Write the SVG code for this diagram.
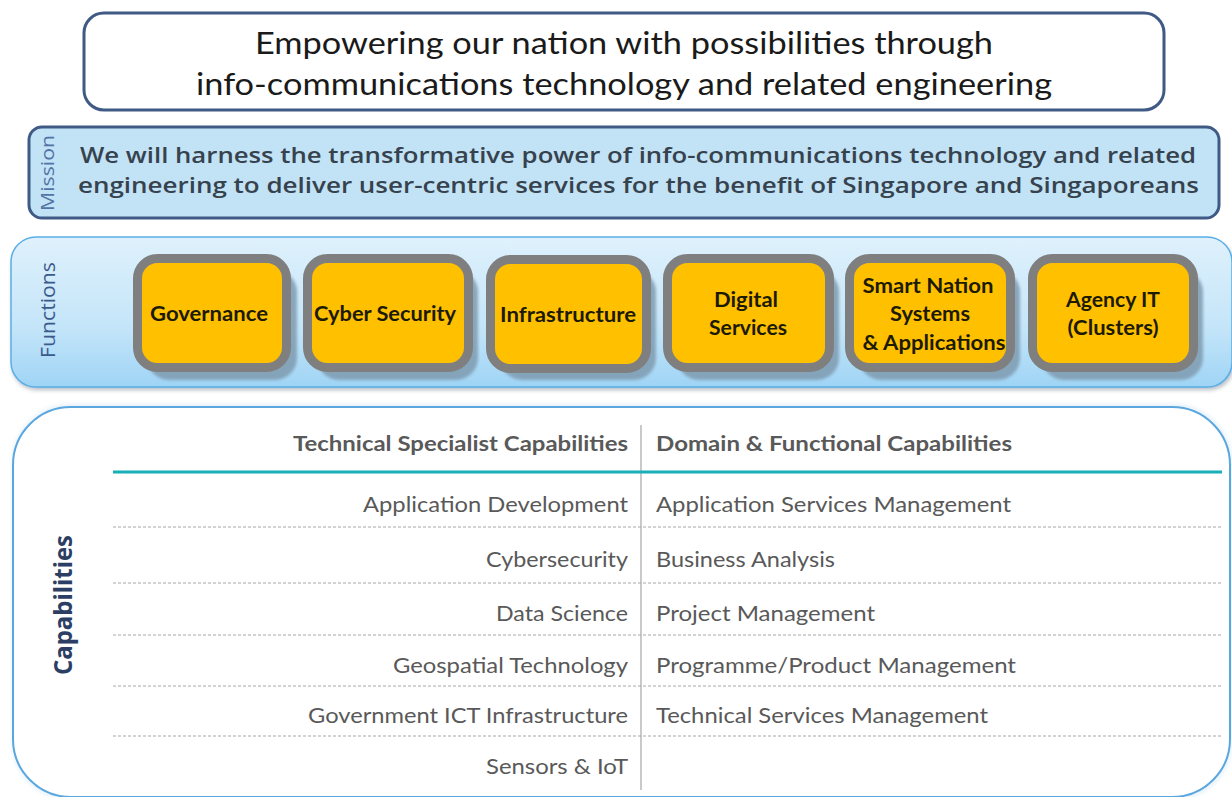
<svg xmlns="http://www.w3.org/2000/svg" width="1232" height="797" viewBox="0 0 1232 797">
<defs>
<linearGradient id="funcGrad" x1="0" y1="0" x2="0" y2="1">
<stop offset="0" stop-color="#dff1fc"/>
<stop offset="0.6" stop-color="#c4e5f9"/>
<stop offset="1" stop-color="#9fd4f5"/>
</linearGradient>
<filter id="blur2" x="-10%" y="-10%" width="120%" height="130%"><feGaussianBlur stdDeviation="1.5"/></filter>
<filter id="panelShadow" x="-5%" y="-10%" width="110%" height="130%"><feGaussianBlur stdDeviation="2"/></filter>
</defs>
<style>
.cal{font-family:Lato,"Open Sans","Liberation Sans",sans-serif}
.geo{font-family:"Open Sans","DejaVu Sans",sans-serif}
.title{font-size:31px;fill:#1a1a1a}
.mission{font-size:22px;font-weight:600;fill:#36424e}
.fbox{fill:#ffc000;stroke:#7f7f7f;stroke-width:9}
.fshadow{fill:#7f9bb0;opacity:0.85}
.ftext{font-size:20px;font-weight:700;fill:#1c1a00;text-anchor:middle}
.th{font-size:21px;font-weight:700;fill:#595959}
.td{font-size:22px;fill:#595959}
.r{text-anchor:end}
.dot{stroke:#a6a6a6;stroke-width:1;stroke-dasharray:3 2}
</style>
<rect width="1232" height="797" fill="#ffffff"/>

<g id="vision">
<rect x="84" y="13" width="1080" height="97" rx="20" fill="#ffffff" stroke="#3f5a85" stroke-width="3"/>
<text class="cal title" x="624" y="54" text-anchor="middle" textLength="738" lengthAdjust="spacingAndGlyphs">Empowering our nation with possibilities through</text>
<text class="cal title" x="624" y="95" text-anchor="middle" textLength="856" lengthAdjust="spacingAndGlyphs">info-communications technology and related engineering</text>
</g>

<g id="mission">
<rect x="29" y="127" width="1190" height="91" rx="13" fill="#c2e2f5" stroke="#3f5a85" stroke-width="3"/>
<text class="geo" x="0" y="0" transform="translate(54,173) rotate(-90)" text-anchor="middle" font-size="18" fill="#5173a6" textLength="76" lengthAdjust="spacingAndGlyphs">Mission</text>
<text class="geo mission" x="80" y="163" textLength="1116" lengthAdjust="spacingAndGlyphs">We will harness the transformative power of info-communications technology and related</text>
<text class="geo mission" x="78" y="193" textLength="1121" lengthAdjust="spacingAndGlyphs">engineering to deliver user-centric services for the benefit of Singapore and Singaporeans</text>
</g>

<g id="functions">
<rect x="12" y="240" width="1222" height="150" rx="25" fill="#6b7c8c" opacity="0.5" filter="url(#panelShadow)"/>
<rect x="11" y="237" width="1221" height="150" rx="25" fill="url(#funcGrad)" stroke="#5aaee6" stroke-width="1.5"/>
<text class="geo" x="0" y="0" transform="translate(55,310) rotate(-90)" text-anchor="middle" font-size="20" fill="#3a5a8c" textLength="96" lengthAdjust="spacingAndGlyphs">Functions</text>
</g>

<g id="fn-governance">
<rect class="fshadow" x="147" y="270" width="150" height="110" rx="22" filter="url(#blur2)"/>
<rect class="fbox" x="137.5" y="258.5" width="149" height="109" rx="20"/>
<text class="cal ftext" x="209" y="321" textLength="118" lengthAdjust="spacingAndGlyphs">Governance</text>
</g>
<g id="fn-cyber">
<rect class="fshadow" x="317" y="270" width="161" height="110" rx="22" filter="url(#blur2)"/>
<rect class="fbox" x="307.5" y="258.5" width="161" height="109" rx="20"/>
<text class="cal ftext" x="385" y="321" textLength="142" lengthAdjust="spacingAndGlyphs">Cyber Security</text>
</g>
<g id="fn-infra">
<rect class="fshadow" x="500" y="270" width="156" height="110" rx="22" filter="url(#blur2)"/>
<rect class="fbox" x="490.5" y="259.5" width="156" height="109" rx="20"/>
<text class="cal ftext" x="568" y="322" textLength="136" lengthAdjust="spacingAndGlyphs">Infrastructure</text>
</g>
<g id="fn-digital">
<rect class="fshadow" x="677" y="270" width="162" height="110" rx="22" filter="url(#blur2)"/>
<rect class="fbox" x="667.5" y="258.5" width="162" height="109" rx="20"/>
<text class="cal ftext" x="746" y="307" textLength="64" lengthAdjust="spacingAndGlyphs">Digital</text>
<text class="cal ftext" x="748" y="335" textLength="78" lengthAdjust="spacingAndGlyphs">Services</text>
</g>
<g id="fn-smart">
<rect class="fshadow" x="859" y="270" width="161" height="110" rx="22" filter="url(#blur2)"/>
<rect class="fbox" x="849.5" y="258.5" width="161" height="109" rx="20"/>
<text class="cal ftext" x="928" y="293" textLength="131" lengthAdjust="spacingAndGlyphs">Smart Nation</text>
<text class="cal ftext" x="930" y="321" textLength="80" lengthAdjust="spacingAndGlyphs">Systems</text>
<text class="cal ftext" x="934" y="350" textLength="143" lengthAdjust="spacingAndGlyphs">&amp; Applications</text>
</g>
<g id="fn-agency">
<rect class="fshadow" x="1042" y="270" width="161" height="110" rx="22" filter="url(#blur2)"/>
<rect class="fbox" x="1032.5" y="258.5" width="161" height="109" rx="20"/>
<text class="cal ftext" x="1113" y="307" textLength="94" lengthAdjust="spacingAndGlyphs">Agency IT</text>
<text class="cal ftext" x="1113" y="335" textLength="91" lengthAdjust="spacingAndGlyphs">(Clusters)</text>
</g>

<g id="capabilities">
<rect x="12" y="404" width="1220" height="396" rx="58" fill="#d6e8f6" opacity="0.6" filter="url(#panelShadow)"/>
<rect x="13" y="407" width="1217" height="390" rx="58" fill="#ffffff" stroke="#5aa7e0" stroke-width="2"/>
<text class="geo" x="0" y="0" transform="translate(72,605) rotate(-90)" text-anchor="middle" font-size="25" font-weight="700" fill="#2c3e63" textLength="140" lengthAdjust="spacingAndGlyphs">Capabilities</text>
</g>

<g id="table">
<line x1="641" y1="425" x2="641" y2="790" stroke="#a6a6a6" stroke-width="1.2"/>
<line x1="113" y1="472" x2="1222" y2="472" stroke="#17b0b8" stroke-width="3"/>
<line class="dot" x1="113" y1="527" x2="1222" y2="527"/>
<line class="dot" x1="113" y1="583" x2="1222" y2="583"/>
<line class="dot" x1="113" y1="635" x2="1222" y2="635"/>
<line class="dot" x1="113" y1="686" x2="1222" y2="686"/>
<line class="dot" x1="113" y1="736" x2="1222" y2="736"/>
<text class="cal th r" x="628" y="451" textLength="335" lengthAdjust="spacingAndGlyphs">Technical Specialist Capabilities</text>
<text class="cal th" x="656" y="451" textLength="356" lengthAdjust="spacingAndGlyphs">Domain &amp; Functional Capabilities</text>
<text class="cal td r" x="628" y="512" textLength="265" lengthAdjust="spacingAndGlyphs">Application Development</text>
<text class="cal td r" x="628" y="567" textLength="142" lengthAdjust="spacingAndGlyphs">Cybersecurity</text>
<text class="cal td r" x="628" y="621" textLength="132" lengthAdjust="spacingAndGlyphs">Data Science</text>
<text class="cal td r" x="628" y="673" textLength="235" lengthAdjust="spacingAndGlyphs">Geospatial Technology</text>
<text class="cal td r" x="628" y="723" textLength="320" lengthAdjust="spacingAndGlyphs">Government ICT Infrastructure</text>
<text class="cal td r" x="628" y="774" textLength="142" lengthAdjust="spacingAndGlyphs">Sensors &amp; IoT</text>
<text class="cal td" x="656" y="512" textLength="355" lengthAdjust="spacingAndGlyphs">Application Services Management</text>
<text class="cal td" x="656" y="567" textLength="179" lengthAdjust="spacingAndGlyphs">Business Analysis</text>
<text class="cal td" x="656" y="621" textLength="219" lengthAdjust="spacingAndGlyphs">Project Management</text>
<text class="cal td" x="656" y="673" textLength="360" lengthAdjust="spacingAndGlyphs">Programme/Product Management</text>
<text class="cal td" x="656" y="723" textLength="332" lengthAdjust="spacingAndGlyphs">Technical Services Management</text>
</g>
</svg>
